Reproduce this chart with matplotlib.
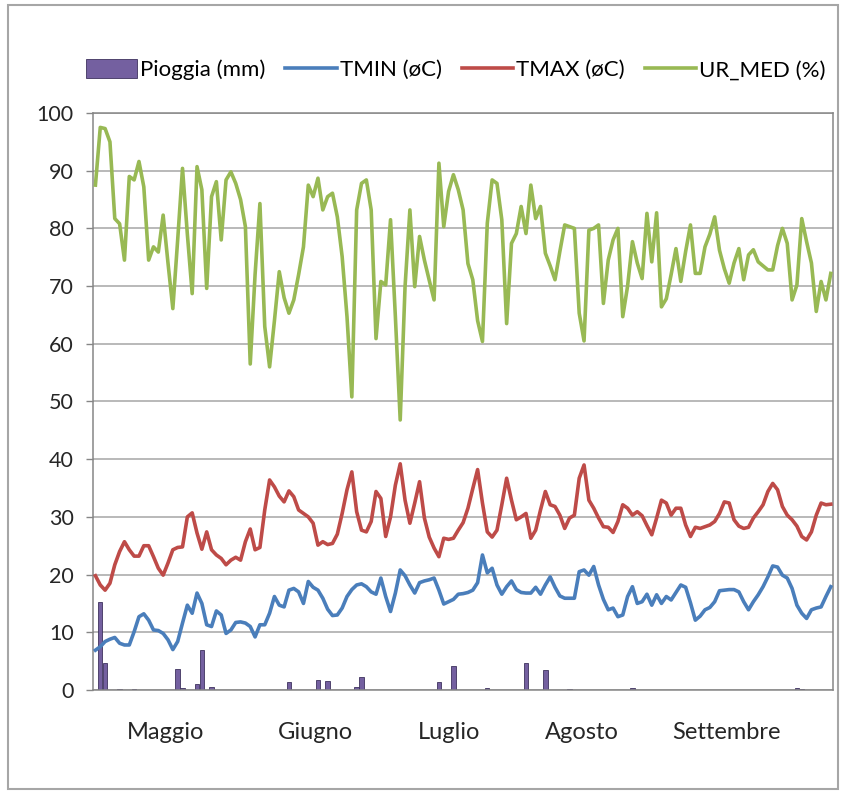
import numpy as np
import matplotlib.pyplot as plt
from matplotlib.patches import Rectangle

# daily values, one per day
tmin = [6.9, 7.5, 8.4, 8.8, 9.1, 8.1, 7.8, 7.8, 10.1, 12.7,
        13.2, 12.1, 10.4, 10.3, 9.8, 8.7, 7.0, 8.4, 11.6, 14.7,
        13.3, 16.8, 15.0, 11.3, 11.0, 13.7, 13.0, 9.8, 10.4, 11.7,
        11.8, 11.6, 11.0, 9.2, 11.3, 11.3, 13.3, 16.2, 14.7, 14.4,
        17.3, 17.6, 17.0, 15.0, 18.8, 17.8, 17.3, 15.9, 14.0, 12.9,
        13.0, 14.2, 16.2, 17.4, 18.2, 18.4, 17.9, 17.0, 16.6, 19.4,
        16.2, 13.6, 16.8, 20.8, 19.8, 18.2, 16.8, 18.6, 18.9, 19.1,
        19.4, 17.3, 14.9, 15.3, 15.7, 16.6, 16.7, 16.9, 17.3, 18.6,
        23.4, 20.3, 21.1, 18.2, 16.6, 17.9, 18.9, 17.4, 16.9, 16.8,
        16.8, 17.8, 16.6, 18.2, 19.6, 17.8, 16.3, 15.9, 15.9, 15.9,
        20.5, 20.8, 19.9, 21.4, 18.2, 15.7, 13.9, 14.2, 12.7, 13.0,
        16.2, 17.9, 15.0, 15.3, 16.6, 14.7, 16.5, 15.0, 16.2, 15.6,
        16.9, 18.2, 17.8, 15.1, 12.1, 12.8, 13.9, 14.3, 15.3, 17.2,
        17.3, 17.4, 17.4, 17.0, 15.3, 13.9, 15.3, 16.5, 17.9, 19.6,
        21.5, 21.3, 19.9, 19.4, 17.6, 14.7, 13.3, 12.4, 13.9, 14.2,
        14.4, 16.2, 17.9]

tmax = [19.8, 18.2, 17.3, 18.5, 21.7, 24.0, 25.7, 24.3, 23.2, 23.2,
        25.0, 25.0, 23.1, 21.1, 19.9, 22.0, 24.3, 24.7, 24.8, 30.0,
        30.7, 27.2, 24.4, 27.4, 24.3, 23.4, 22.8, 21.7, 22.5, 23.0,
        22.5, 25.7, 27.9, 24.3, 24.7, 31.2, 36.4, 35.2, 33.6, 32.6,
        34.5, 33.5, 31.2, 30.6, 30.0, 28.9, 25.1, 25.7, 25.2, 25.4,
        27.0, 30.6, 34.7, 37.8, 30.9, 27.7, 27.4, 29.2, 34.4, 33.2,
        26.6, 30.0, 35.5, 39.2, 32.9, 28.9, 32.4, 36.1, 29.8, 26.5,
        24.6, 23.1, 26.3, 26.1, 26.3, 27.7, 29.0, 31.5, 34.9, 38.2,
        32.4, 27.4, 26.5, 27.7, 32.1, 36.7, 32.9, 29.5, 30.0, 30.6,
        26.3, 27.7, 31.2, 34.4, 32.1, 31.8, 30.3, 28.0, 29.8, 30.3,
        36.7, 39.0, 32.9, 31.5, 29.8, 28.3, 28.2, 27.3, 29.2, 32.1,
        31.5, 30.3, 30.9, 30.2, 28.5, 26.9, 29.8, 32.9, 32.4, 30.3,
        31.5, 31.5, 28.6, 26.6, 28.2, 28.0, 28.3, 28.6, 29.2, 30.6,
        32.6, 32.4, 29.5, 28.4, 28.0, 28.2, 29.8, 30.9, 32.1, 34.4,
        35.8, 34.7, 31.8, 30.3, 29.5, 28.4, 26.6, 26.0, 27.4, 30.3,
        32.4, 32.1, 32.2]

ur_med = [87.5, 97.5, 97.3, 95.0, 81.7, 80.8, 74.5, 89.0, 88.4, 91.6,
          87.2, 74.5, 76.8, 75.9, 82.3, 74.0, 66.1, 78.0, 90.4, 79.0,
          68.7, 90.7, 86.7, 69.6, 85.5, 88.1, 78.0, 88.4, 89.8, 87.8,
          85.0, 80.3, 56.5, 72.0, 84.3, 63.0, 56.0, 64.0, 72.5, 68.0,
          65.3, 67.6, 72.0, 76.8, 87.5, 85.5, 88.7, 83.2, 85.5, 86.1,
          82.0, 75.1, 64.7, 50.8, 83.2, 87.8, 88.4, 83.2, 60.9, 70.8,
          70.2, 81.5, 64.7, 46.8, 69.9, 83.2, 69.9, 78.6, 74.5, 71.0,
          67.6, 91.3, 80.3, 86.4, 89.3, 86.7, 83.2, 73.9, 71.1, 64.0,
          60.4, 80.9, 88.4, 87.8, 81.5, 63.5, 77.4, 79.1, 83.8, 79.1,
          87.5, 81.7, 83.8, 75.7, 73.5, 71.1, 76.0, 80.6, 80.3, 80.0,
          65.3, 60.5, 79.7, 80.0, 80.6, 67.0, 74.5, 78.0, 80.0, 64.7,
          70.0, 77.7, 74.0, 71.3, 82.6, 74.2, 82.7, 66.4, 67.8, 72.0,
          76.5, 70.8, 76.0, 80.6, 72.2, 72.2, 76.8, 79.0, 82.0, 76.2,
          73.0, 70.5, 74.0, 76.5, 71.1, 75.4, 76.3, 74.2, 73.5, 72.8,
          72.8, 77.0, 80.0, 77.4, 67.6, 70.2, 81.7, 77.7, 74.0, 65.6,
          70.8, 67.6, 72.2]

# rainy days (day index) and rainfall in mm
rain_days = [1, 2, 5, 8, 17, 18, 21, 22, 24, 40, 46, 48, 54, 55,
             71, 74, 81, 89, 93, 98, 111, 145, 146]
rain_mm = [15.3, 4.7, 0.1, 0.1, 3.6, 0.4, 1.0, 6.9, 0.6, 1.4, 1.8, 1.5, 0.6, 2.3,
           1.4, 4.2, 0.3, 4.7, 3.5, 0.1, 0.3, 0.3, 0.2]

months = ['Maggio', 'Giugno', 'Luglio', 'Agosto', 'Settembre']
month_pos = [14.5, 45.5, 73, 100.5, 130.5]

plt.rcParams['font.family'] = ['Lato', 'DejaVu Sans']

n = len(tmin)
days = np.arange(n)
pioggia = np.zeros(n)
pioggia[rain_days] = rain_mm

fig = plt.figure(figsize=(8.44, 7.94), dpi=100)
ax = fig.add_axes([0.1102, 0.131, 0.877, 0.7267])

# outer chart frame
fig.patches.append(Rectangle((0.010, 0.006), 0.983, 0.988, transform=fig.transFigure,
                             fill=False, edgecolor='#a6a6a6', linewidth=1.5))

bars = ax.bar(days, pioggia, width=0.9, color='#7460a0', edgecolor='#3e325e',
              linewidth=0.6, label='Pioggia (mm)', zorder=2)
l1, = ax.plot(days, tmin, color='#4a7ebb', lw=2.6, label='TMIN (øC)', zorder=3)
l2, = ax.plot(days, tmax, color='#be4b48', lw=2.6, label='TMAX (øC)', zorder=3)
l3, = ax.plot(days, ur_med, color='#98b954', lw=2.6, label='UR_MED (%)', zorder=3)

ax.set_xlim(-0.5, n - 0.5)
ax.set_ylim(0, 100)
ax.set_yticks(np.arange(0, 101, 10))
ax.yaxis.grid(True, color='#a6a6a6', lw=1.1)
ax.set_axisbelow(True)
ax.tick_params(axis='y', length=5, width=1, color='#868686', pad=9,
               labelsize=15.5, labelcolor='#262626')
ax.set_xticks(month_pos)
ax.set_xticklabels(months)
ax.tick_params(axis='x', length=0, pad=23, labelsize=17, labelcolor='#262626')
for s in ax.spines.values():
    s.set_color('#868686')
    s.set_linewidth(1.1)

fig.legend([bars, l1, l2, l3], [h.get_label() for h in (bars, l1, l2, l3)],
           loc='center', bbox_to_anchor=(0.540, 0.912), ncol=4, frameon=False,
           fontsize=16, handlelength=2.3, handleheight=0.9, handletextpad=0.15,
           columnspacing=0.9)

fig.savefig('out.png', dpi=100)
